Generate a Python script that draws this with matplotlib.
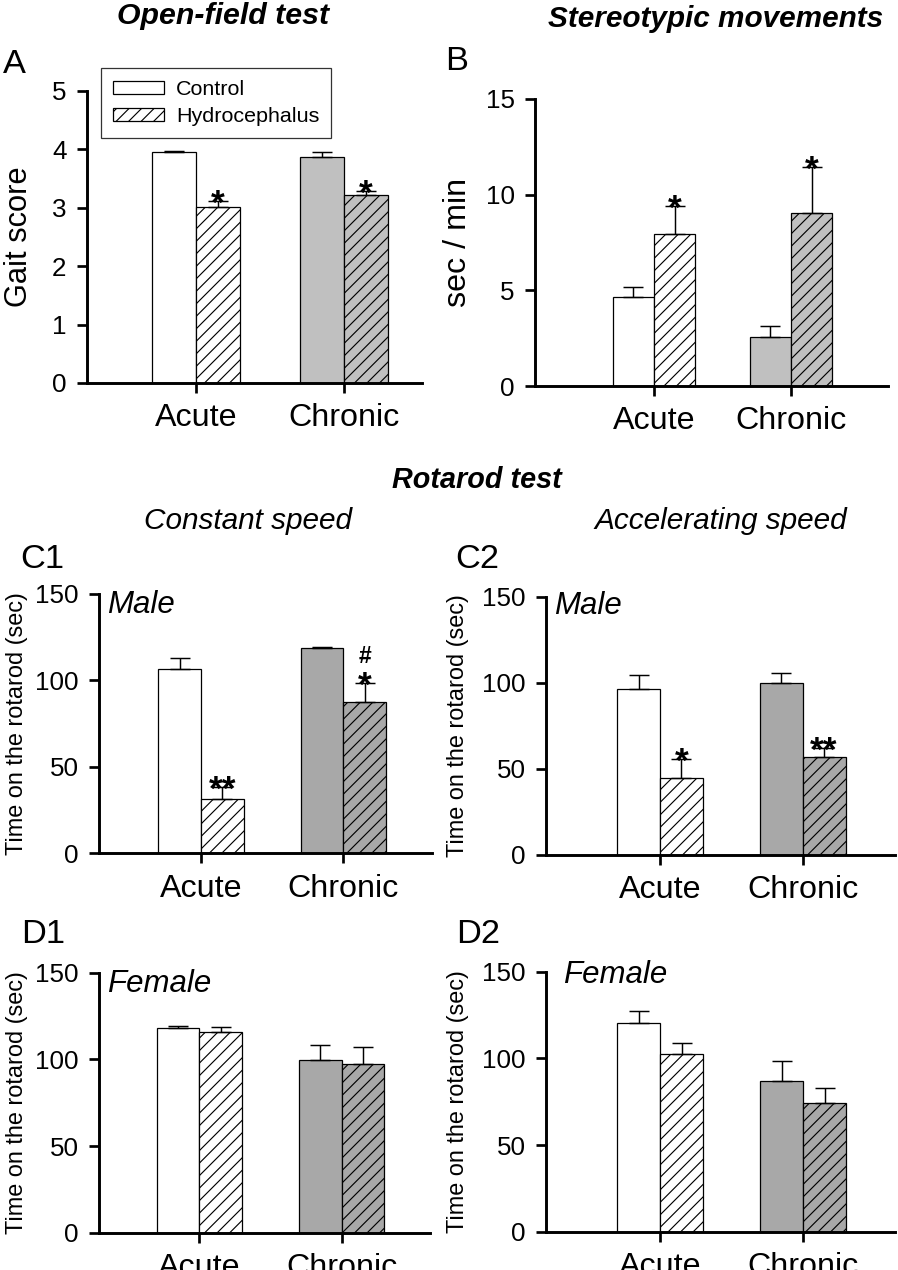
import numpy as np
import matplotlib
matplotlib.use("Agg")
import matplotlib.pyplot as plt
from matplotlib.patches import Patch

plt.rcParams['font.family'] = ['Liberation Sans', 'DejaVu Sans']
plt.rcParams['hatch.linewidth'] = 0.55

W, H, DPI = 898, 1270, 150

# categorias
grupos = ["Acute", "Chronic"]

# A - gait score
A_ctrl = [3.95, 3.87]
A_ctrl_err = [0.02, 0.08]
A_hydro = [3.01, 3.22]
A_hydro_err = [0.11, 0.07]
A_sig = ["*", "*"]

# B - stereotypic movements (sec/min)
B_ctrl = [4.64, 2.58]
B_ctrl_err = [0.55, 0.56]
B_hydro = [7.95, 9.06]
B_hydro_err = [1.46, 2.40]
B_sig = ["*", "*"]

# C1 - rotarod constant speed, male
C1_ctrl = [106.6, 118.6]
C1_ctrl_err = [6.6, 0.5]
C1_hydro = [31.6, 87.3]
C1_hydro_err = [6.9, 11.4]
C1_sig = ["**", "*"]

# C2 - rotarod accelerating speed, male
C2_ctrl = [96.2, 99.7]
C2_ctrl_err = [8.3, 6.2]
C2_hydro = [44.5, 57.1]
C2_hydro_err = [11.4, 4.9]
C2_sig = ["*", "**"]

# D1 - constant speed, female
D1_ctrl = [118.3, 99.6]
D1_ctrl_err = [0.9, 8.5]
D1_hydro = [116.0, 97.2]
D1_hydro_err = [2.5, 9.8]

# D2 - accelerating speed, female
D2_ctrl = [120.6, 87.0]
D2_ctrl_err = [6.7, 11.5]
D2_hydro = [102.5, 74.1]
D2_hydro_err = [6.6, 9.0]

fig = plt.figure(figsize=(W / DPI, H / DPI), dpi=DPI)


def eixo(l, r, t, b):
    # converte pixels da imagem em coordenadas da figura
    return fig.add_axes([l / W, 1 - b / H, (r - l) / W, (b - t) / H])


def texto(x, y, s, **kw):
    fig.text(x / W, 1 - y / H, s, va='baseline', **kw)


def painel(ax, ctrl, ctrl_err, hydro, hydro_err, cinza, yticks, xlim,
           ylabel, yl_x, yl_fs, sig=None):
    x = np.arange(len(grupos))
    w = 0.3
    cores = ['white', cinza]
    ax.bar(x - w / 2, ctrl, w, color=cores, edgecolor='black', linewidth=0.6, zorder=2)
    ax.bar(x + w / 2, hydro, w, color=cores, edgecolor='black', linewidth=0.6,
           hatch='////', zorder=2)
    ax.errorbar(x - w / 2, ctrl, yerr=[np.zeros(2), ctrl_err], fmt='none',
                ecolor='black', elinewidth=0.7, capsize=5, capthick=0.7, zorder=3)
    ax.errorbar(x + w / 2, hydro, yerr=[np.zeros(2), hydro_err], fmt='none',
                ecolor='black', elinewidth=0.7, capsize=5, capthick=0.7, zorder=3)
    if sig:
        for i, s in enumerate(sig):
            ax.annotate(s, (x[i] + w / 2, hydro[i] + hydro_err[i]),
                        xytext=(0, -9.5), textcoords='offset points',
                        ha='center', va='bottom', fontsize=17, fontweight='bold')
    ax.set_xlim(*xlim)
    ax.set_ylim(yticks[0], yticks[-1])
    ax.set_yticks(yticks)
    ax.set_xticks(x)
    ax.set_xticklabels(grupos, fontsize=15.5)
    ax.tick_params(axis='y', labelsize=12.5, direction='out', length=4.8,
                   width=1.3, pad=5)
    ax.tick_params(axis='x', direction='out', length=4.8, width=1.3, pad=5)
    for lado in ['top', 'right']:
        ax.spines[lado].set_visible(False)
    for lado in ['left', 'bottom']:
        ax.spines[lado].set_linewidth(1.4)
    ax.set_ylabel(ylabel, fontsize=yl_fs)
    ax.yaxis.set_label_coords(yl_x, 0.5)


# A
axA = eixo(87, 422, 90.7, 383)
painel(axA, A_ctrl, A_ctrl_err, A_hydro, A_hydro_err, '#c0c0c0',
       [0, 1, 2, 3, 4, 5], (-0.736, 1.527), 'Gait score', -0.158, 14.8, A_sig)
handles = [Patch(facecolor='white', edgecolor='black', linewidth=0.6),
           Patch(facecolor='white', edgecolor='black', linewidth=0.6, hatch='////')]
leg = axA.legend(handles, ['Control', 'Hydrocephalus'], loc='upper left',
                 bbox_to_anchor=(0.042, 1.078), fontsize=10.3, frameon=True,
                 fancybox=False, edgecolor='black', handlelength=2.4,
                 handleheight=0.55, handletextpad=0.55, labelspacing=0.4,
                 borderpad=0.55, borderaxespad=0)
leg.get_frame().set_linewidth(0.6)

# B
axB = eixo(535, 888, 99, 386)
painel(axB, B_ctrl, B_ctrl_err, B_hydro, B_hydro_err, '#c0c0c0',
       [0, 5, 10, 15], (-0.869, 1.708), 'sec / min', -0.176, 15.5, B_sig)

# C1
axC1 = eixo(99, 431.7, 594, 853.3)
painel(axC1, C1_ctrl, C1_ctrl_err, C1_hydro, C1_hydro_err, '#a8a8a8',
       [0, 50, 100, 150], (-0.717, 1.62), 'Time on the rotarod (sec)', -0.213,
       11.3, C1_sig)
axC1.annotate('#', (1 + 0.15, C1_hydro[1] + C1_hydro_err[1]), xytext=(0, 7),
              textcoords='offset points', ha='center', va='bottom',
              fontsize=11, fontweight='bold')
axC1.text(0.024, 0.927, 'Male', transform=axC1.transAxes, fontsize=15,
          style='italic', va='baseline')

# C2
axC2 = eixo(546, 895, 596.7, 855)
painel(axC2, C2_ctrl, C2_ctrl_err, C2_hydro, C2_hydro_err, '#a8a8a8',
       [0, 50, 100, 150], (-0.80, 1.647), 'Time on the rotarod (sec)', -0.22,
       11.3, C2_sig)
axC2.text(0.023, 0.933, 'Male', transform=axC2.transAxes, fontsize=15,
          style='italic', va='baseline')

# D1
axD1 = eixo(99, 430, 972.7, 1232.7)
painel(axD1, D1_ctrl, D1_ctrl_err, D1_hydro, D1_hydro_err, '#a8a8a8',
       [0, 50, 100, 150], (-0.704, 1.62), 'Time on the rotarod (sec)', -0.213,
       11.3)
axD1.text(0.024, 0.927, 'Female', transform=axD1.transAxes, fontsize=15,
          style='italic', va='baseline')

# D2
axD2 = eixo(546, 895, 971.7, 1231.7)
painel(axD2, D2_ctrl, D2_ctrl_err, D2_hydro, D2_hydro_err, '#a8a8a8',
       [0, 50, 100, 150], (-0.796, 1.64), 'Time on the rotarod (sec)', -0.22,
       11.3)
axD2.text(0.049, 0.958, 'Female', transform=axD2.transAxes, fontsize=15,
          style='italic', va='baseline')

# titulos e letras
texto(223, 24, 'Open-field test', ha='center', fontsize=14.5, style='italic', fontweight='bold')
texto(716, 27, 'Stereotypic movements', ha='center', fontsize=14.3, style='italic', fontweight='bold')
texto(477, 488, 'Rotarod test', ha='center', fontsize=13.8, style='italic', fontweight='bold')
texto(248, 529, 'Constant speed', ha='center', fontsize=14.3, style='italic')
texto(721, 529, 'Accelerating speed', ha='center', fontsize=14.3, style='italic')
texto(3, 73, 'A', fontsize=16.5)
texto(445, 70, 'B', fontsize=16.5)
texto(20, 568, 'C1', fontsize=16.5)
texto(455, 568, 'C2', fontsize=16.5)
texto(21, 943, 'D1', fontsize=16.5)
texto(456, 943, 'D2', fontsize=16.5)

fig.savefig('out.png', dpi=DPI)
